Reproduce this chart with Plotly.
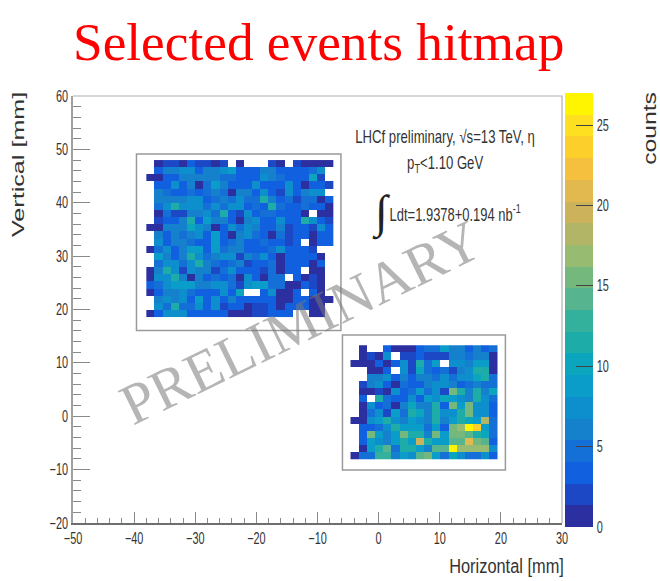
import json
import plotly.graph_objects as go

_ = None
W, H = 660, 581
L, R, T, B = 72.5, 561.6, 96.0, 523.0

upper_z_top_down = [
    [_,1,2,2,1,4,2,2,1,2,_,1,_,_,_,2,1,_,2,1,1,1,1],
    [_,3,6,6,7,7,3,6,6,8,9,3,3,3,6,6,4,4,3,3,5,7,_],
    [1,1,3,3,6,6,6,6,6,5,5,3,3,3,7,6,5,4,3,3,10,2,_],
    [_,4,4,8,3,6,1,5,9,6,4,3,3,7,3,3,3,8,3,1,4,4,2],
    [_,6,5,3,3,5,3,5,6,5,1,6,6,4,8,4,2,8,3,6,7,7,_],
    [_,6,6,6,6,7,7,4,5,6,5,7,5,5,12,6,4,5,2,5,5,1,3],
    [_,5,7,12,7,8,8,5,7,5,8,7,3,5,4,12,5,3,3,5,4,3,1],
    [_,1,5,2,2,6,6,8,5,11,3,2,7,4,5,5,3,4,3,1,_,1,1],
    [_,2,4,3,6,12,3,9,6,6,4,1,6,8,4,4,7,4,3,11,8,3,2],
    [1,1,6,6,6,10,7,6,1,4,8,5,7,6,3,4,6,2,3,3,2,8,3],
    [_,6,3,6,5,6,8,4,9,4,1,6,7,5,3,1,5,2,4,3,1,3,3],
    [_,7,3,6,6,5,4,4,9,4,5,6,3,3,5,3,4,2,3,_,1,3,4],
    [1,5,7,4,6,9,9,4,9,5,6,6,3,3,3,5,7,3,3,3,2,_,_],
    [_,9,6,3,6,11,7,5,6,7,7,2,6,5,8,4,1,3,4,3,3,1,_],
    [_,5,8,7,5,7,11,6,5,3,5,6,2,4,4,5,1,3,4,3,1,3,_],
    [1,6,12,7,2,8,6,6,2,5,7,4,3,3,2,5,1,4,3,_,1,1,_],
    [1,7,7,11,6,1,6,4,5,3,5,1,7,4,1,5,5,_,3,1,2,1,_],
    [3,5,7,9,9,9,6,6,8,8,5,2,8,9,9,5,5,1,1,3,2,1,_],
    [1,4,6,6,7,5,4,4,3,8,3,10,_,_,3,7,1,1,3,_,3,1,_],
    [_,6,7,6,8,4,9,3,7,3,6,3,3,3,3,3,1,1,3,3,1,1,1],
    [_,7,5,11,5,5,8,3,7,2,4,3,1,2,2,3,1,4,4,3,1,1,_],
    [1,4,7,7,7,4,4,3,3,3,1,1,1,2,2,3,3,4,_,_,1,1,_],
]
lower_z_top_down = [
    [_,1,_,_,3,1,1,1,4,5,5,9,6,6,4,6,4,5],
    [_,1,2,1,7,_,2,2,3,2,2,2,6,6,5,6,6,1],
    [1,1,1,3,1,3,7,2,11,5,9,_,7,7,6,9,9,1],
    [_,_,1,1,3,_,7,2,10,5,3,5,2,6,7,11,11,1],
    [_,_,6,6,7,3,6,3,6,6,5,7,5,8,7,10,11,5],
    [_,2,6,7,3,1,5,3,3,6,7,8,6,3,5,6,5,5],
    [_,1,1,2,1,7,3,5,9,5,7,2,16,11,6,11,6,10],
    [_,3,_,11,5,3,3,7,4,9,7,10,9,8,6,11,8,5],
    [_,1,7,3,5,1,6,10,6,6,11,4,16,9,15,8,8,3],
    [_,1,5,8,2,9,5,11,10,6,11,7,7,11,16,7,8,3],
    [1,1,8,9,12,7,6,9,7,6,12,6,9,11,10,9,18,5],
    [_,3,3,5,7,11,9,9,9,5,9,4,15,17,26,23,9,5],
    [_,3,15,9,6,9,15,11,11,6,15,9,15,15,14,11,10,5],
    [_,3,9,8,6,9,11,9,19,11,9,9,14,14,21,16,14,3],
    [_,1,9,12,14,5,11,11,9,6,14,14,27,17,17,17,17,8],
    [1,5,5,13,13,6,9,8,14,16,9,5,10,8,5,5,8,3],
]
band_colors = [
    "#2b2fa0","#1c48c6","#1060df","#1470d6","#1580cc","#0c8fcc","#0a9dca",
    "#0ba6be","#1eaca8","#33b19c","#56b48e","#75b87e","#97bb70","#b2b566",
    "#cdb25c","#e2b94e","#f4c03e","#fdcf2a","#ffe020","#fff500",
]
upper_left, upper_top, lower_left, lower_top, bin_mm = -38.0, 48.0, -4.6, 13.3, 4 / 3
cbar_ticks = [0, 5, 10, 15, 20, 25]
x_ticks = list(range(-50, 31, 10))
y_ticks = list(range(-20, 61, 10))

SERIF = "Liberation Serif, serif"
SANS = "Liberation Sans, sans-serif"
AXIS_GRAY = "#8a8a8a"
TEXT = "#333333"
# The reference is a stretched picture: text widths are corrected after drawing.
TICK_STRETCH = 0.68
TEXT_STRETCH = {"LHCf": 0.73, "1.10 GeV": 0.73, "Ldt": 0.72, "Horizontal": 0.78, "Vertical": 1.48, "counts": 1.3}


def px(x):
    return (x - L) / (R - L)


def py(y):
    return (B - y) / (B - T)


stepped = []
for i, c in enumerate(band_colors):
    stepped += [[i / len(band_colors), c], [(i + 1) / len(band_colors), c]]

fig = go.Figure()
for z_rows, left, top in [(upper_z_top_down, upper_left, upper_top), (lower_z_top_down, lower_left, lower_top)]:
    n = len(z_rows)
    fig.add_trace(go.Heatmap(
        z=z_rows[::-1], x0=left + bin_mm / 2, dx=bin_mm,
        y0=top - n * bin_mm + bin_mm / 2, dy=bin_mm,
        coloraxis="coloraxis", hoverongaps=False,
    ))


def ann(text, x, y, size, font, color=TEXT, angle=0):
    fig.add_annotation(text=text, x=px(x), y=py(y), xref="paper", yref="paper", showarrow=False,
                       font=dict(family=font, size=size, color=color), textangle=angle,
                       xanchor="center", yanchor="middle")


ann("LHCf preliminary, √s=13 TeV, η", 445, 137, 18, SANS)
ann("p<sub>T</sub><1.10 GeV", 445, 164, 18, SANS)
ann("∫", 381, 213, 46, SERIF, color="#222222")
ann("Ldt=1.9378+0.194 nb<sup>-1</sup>", 455, 213, 18, SANS)
ann("PRELIMINARY", 300, 322, 58, SERIF, color="rgba(120,120,120,0.55)", angle=-26)
ann("Horizontal [mm]", 506, 565, 21, SANS)
ann("Vertical [mm]", 17, 165, 17, SANS, angle=-90)
ann("counts", 650, 128, 19, SANS, angle=-90)
ann("Selected events hitmap", 318, 42, 53.3, SERIF, color="#ff0000")

frames = [(136, 154, 340.5, 330.5), (342, 335, 505, 470)]
shapes = [dict(type="rect", xref="paper", yref="paper", x0=px(a), x1=px(c), y0=py(d), y1=py(b),
               line=dict(color="#9a9a9a", width=1.5), fillcolor="white", layer="below") for a, b, c, d in frames]
shapes.append(dict(type="path", xref="paper", yref="paper",
                   path=f"M {px(L)} {py(T)} L {px(R)} {py(T)} L {px(R)} {py(B)}",
                   line=dict(color="#b0b0b0", width=1.2)))

common = dict(showgrid=False, zeroline=False, showline=True, linewidth=1.5,
              ticks="inside", tickcolor=AXIS_GRAY, tickwidth=1,
              tickfont=dict(family=SANS, size=16, color=TEXT))
minor_x = dict(dtick=2, ticklen=5, ticks="inside", tickcolor=AXIS_GRAY, tickwidth=1)
minor_y = dict(dtick=2, ticklen=8, ticks="inside", tickcolor=AXIS_GRAY, tickwidth=1)
fig.update_layout(
    width=W, height=H, margin=dict(l=L, r=W - R, t=T, b=H - B, autoexpand=False),
    paper_bgcolor="white", plot_bgcolor="white", showlegend=False, shapes=shapes,
    xaxis=dict(range=[-50, 30], tickvals=x_ticks, ticklen=11, linecolor="#6e6e6e", minor=minor_x, **common),
    yaxis=dict(range=[-20, 60], tickvals=y_ticks, ticklen=17, linecolor="#a0a0a0", minor=minor_y, **common),
    coloraxis=dict(cmin=0, cmax=27, colorscale=stepped, colorbar=dict(
        x=(564.7 - L) / (R - L), xanchor="left", xpad=0, y=py(527), yanchor="bottom", ypad=0,
        lenmode="pixels", len=433.5, thicknessmode="pixels", thickness=28,
        tickvals=cbar_ticks, ticks="inside", ticklen=17, tickcolor="#444444", tickwidth=1,
        outlinewidth=0, tickfont=dict(family=SANS, size=16, color=TEXT))),
)

post = """
document.body.style.margin = '0';
document.body.style.overflow = 'hidden';
var stretch = function (t, s) {
  var cx = parseFloat(t.getAttribute('x')) || 0;
  var old = t.getAttribute('transform') || '';
  t.setAttribute('transform', old + ' translate(' + cx + ' 0) scale(' + s + ' 1) translate(' + (-cx) + ' 0)');
};
document.querySelectorAll('.xtick text, .ytick text, .colorbar text').forEach(function (t) { stretch(t, %s); });
var table = %s;
document.querySelectorAll('.annotation-text').forEach(function (t) {
  Object.keys(table).forEach(function (k) {
    if (t.textContent.indexOf(k) >= 0) { stretch(t, table[k]); }
  });
});
""" % (TICK_STRETCH, json.dumps(TEXT_STRETCH))
fig.write_html("out.html", post_script=post, config={"displayModeBar": False})
